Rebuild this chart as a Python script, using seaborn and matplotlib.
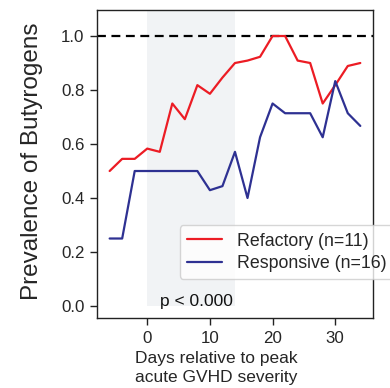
import matplotlib
matplotlib.use("Agg")
import matplotlib.pyplot as plt
import seaborn as sns
import pandas as pd

days = [-6, -4, -2, 0, 2, 4, 6, 8, 10, 12, 14, 16, 18, 20, 22, 24, 26, 28, 30, 32, 34]
refractory = [0.5, 0.545, 0.545, 0.583, 0.571, 0.75, 0.692, 0.818, 0.786, 0.846, 0.9,
              0.909, 0.923, 1.0, 1.0, 0.909, 0.9, 0.75, 0.818, 0.889, 0.9]
responsive = [0.25, 0.25, 0.5, 0.5, 0.5, 0.5, 0.5, 0.5, 0.429, 0.444, 0.571,
              0.4, 0.625, 0.75, 0.714, 0.714, 0.714, 0.625, 0.833, 0.714, 0.667]
labels = ["Refactory (n=11)", "Responsive (n=16)"]
colors = ["#ec1c24", "#2e3192"]
yticks = [0.0, 0.2, 0.4, 0.6, 0.8, 1.0]
xticks = [0, 10, 20, 30]

df = pd.DataFrame({
    "day": days * 2,
    "prev": refractory + responsive,
    "group": [labels[0]] * len(days) + [labels[1]] * len(days),
})

sns.set_theme(style="white")
plt.rcParams["font.family"] = ["Liberation Sans", "DejaVu Sans"]

fig = plt.figure(figsize=(3.9, 3.88), dpi=100)
ax = fig.add_axes([0.249, 0.180, 0.707, 0.794])

ax.fill_between([0, 14], 0, 1.2, color="#f1f3f5", linewidth=0, zorder=0)
ax.axhline(1.0, color="black", linestyle=(0, (4, 2.5)), linewidth=1.6, zorder=1)

sns.lineplot(data=df, x="day", y="prev", hue="group", palette=dict(zip(labels, colors)),
             linewidth=1.6, ax=ax, legend=True, zorder=2)

ax.text(2, 0.018, "p < 0.000", fontsize=12.5, ha="left", va="center", color="#111111")

ax.set_xlim(-8, 36)
ax.set_ylim(-0.045, 1.096)
ax.set_xticks(xticks)
ax.set_yticks(yticks)
ax.set_yticklabels([f"{v:.1f}" for v in yticks])
ax.tick_params(axis="both", which="both", direction="out", length=5, width=1,
               labelsize=12.2, color="#222222", left=True, bottom=True, pad=4)
for s in ax.spines.values():
    s.set_color("#222222")
    s.set_linewidth(1.0)

ax.set_xlabel("Days relative to peak\nacute GVHD severity", fontsize=12.5, linespacing=1.3)
ax.xaxis.set_label_coords(0.431, -0.108)
ax.xaxis.label.set_va("top")
ax.set_ylabel("Prevalence of Butyrogens", fontsize=17.5)
ax.yaxis.set_label_coords(-0.196, 0.51)

leg = ax.legend(loc="lower left", bbox_to_anchor=(0.30, 0.127), borderaxespad=0,
                fontsize=12.8, frameon=True, handlelength=2.0, borderpad=0.4,
                labelspacing=0.3, handletextpad=0.8)
leg.get_frame().set_edgecolor("#cccccc")
leg.get_frame().set_alpha(0.8)

fig.savefig("out.png", dpi=100)
